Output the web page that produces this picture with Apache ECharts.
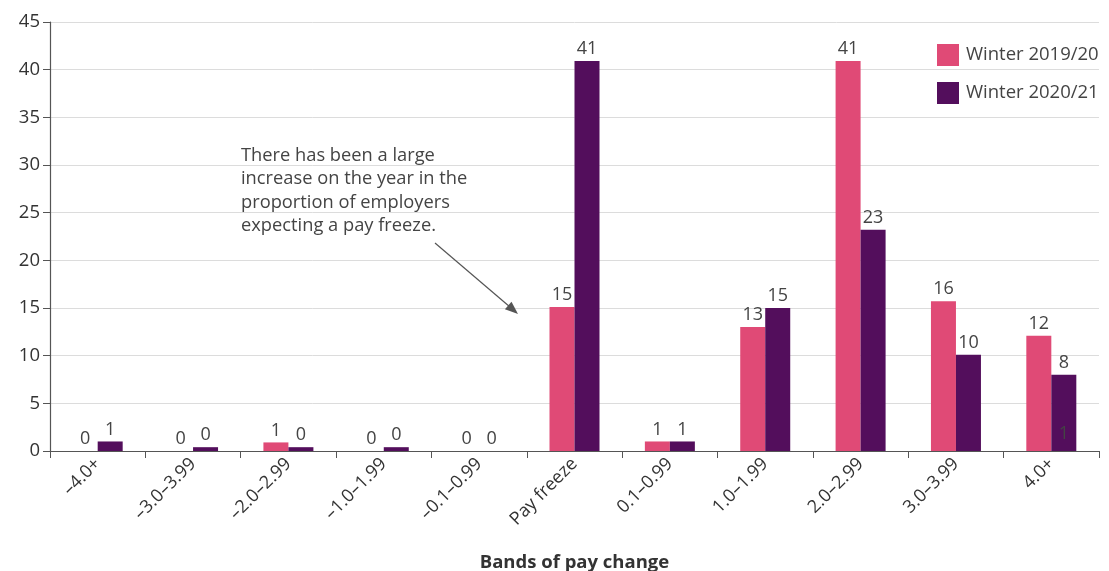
<!DOCTYPE html>
<html>
<head>
<meta charset="utf-8">
<script src="https://cdn.jsdelivr.net/npm/echarts@6/dist/echarts.min.js"></script>
<style>
html,body{margin:0;padding:0;background:#fff;}
#chart{width:1109px;height:571px;}
</style>
</head>
<body>
<div id="chart"></div>
<script>
const categories = ['–4.0+', '–3.0–3.99', '–2.0–2.99', '–1.0–1.99', '–0.1–0.99', 'Pay freeze', '0.1–0.99', '1.0–1.99', '2.0–2.99', '3.0–3.99', '4.0+'];
const winter2019 = [0, 0, 0.9, 0, 0, 15.1, 1, 13, 40.9, 15.7, 12.1];
const winter2020 = [1, 0.4, 0.4, 0.4, 0, 40.9, 1, 15, 23.2, 10.1, 8];
const seriesNames = ['Winter 2019/20', 'Winter 2020/21'];
const yTicks = { min: 0, max: 45, interval: 5 };
const annotationText = 'There has been a large\nincrease on the year in the\nproportion of employers\nexpecting a pay freeze.';
// stray label visible inside the last purple bar in the source
const strayLabel = { category: '4.0+', value: 1, text: '1' };

const FONT = '"Open Sans", sans-serif';
const chart = echarts.init(document.getElementById('chart'));

const labelCfg = {
  show: true,
  position: 'top',
  distance: 3,
  color: '#444',
  fontSize: 18,
  fontFamily: FONT,
  formatter: p => Math.round(p.value)
};

chart.setOption({
  animation: false,
  textStyle: { fontFamily: FONT },
  grid: { left: 50, right: 10, top: 22, bottom: 120, containLabel: false, outerBoundsMode: 'none' },
  legend: {
    orient: 'vertical',
    left: 932,
    top: 39,
    itemWidth: 22,
    itemHeight: 22,
    itemGap: 16,
    icon: 'rect',
    textStyle: { fontSize: 18.5, color: '#444', fontFamily: FONT, padding: [0, 0, 0, 2] },
    data: seriesNames
  },
  xAxis: {
    type: 'category',
    data: categories,
    name: 'Bands of pay change',
    nameLocation: 'middle',
    nameGap: 102,
    nameTextStyle: { fontSize: 18.5, fontWeight: 'bold', color: '#333', fontFamily: FONT },
    axisLine: { lineStyle: { color: '#555', width: 1.2 } },
    axisTick: { show: true, length: 7, lineStyle: { color: '#555' } },
    axisLabel: { rotate: 45, fontSize: 18, color: '#333', margin: 10, fontFamily: FONT }
  },
  yAxis: {
    type: 'value',
    min: yTicks.min,
    max: yTicks.max,
    interval: yTicks.interval,
    axisLine: { show: true, lineStyle: { color: '#555', width: 1.2 } },
    axisTick: { show: true, length: 7, lineStyle: { color: '#555' } },
    axisLabel: { fontSize: 18.5, color: '#333', margin: 10, fontFamily: FONT },
    splitLine: { lineStyle: { color: '#dcdcdc' } }
  },
  series: [
    {
      name: seriesNames[0],
      type: 'bar',
      data: winter2019,
      barWidth: 25,
      barGap: '0%',
      itemStyle: { color: '#e04a76' },
      label: labelCfg
    },
    {
      name: seriesNames[1],
      type: 'bar',
      data: winter2020,
      barWidth: 25,
      itemStyle: { color: '#530e5c' },
      label: labelCfg,
      markPoint: {
        symbol: 'circle',
        symbolSize: 0,
        silent: true,
        label: {
          show: true,
          position: 'top',
          offset: [0, 6],
          color: '#444',
          fontSize: 18,
          fontFamily: FONT,
          formatter: strayLabel.text
        },
        data: [{ coord: [strayLabel.category, strayLabel.value] }]
      }
    }
  ],
  graphic: [
    {
      type: 'text',
      left: 241,
      top: 144,
      z: 10,
      style: {
        text: annotationText,
        fontSize: 18.3,
        lineHeight: 23.5,
        fill: '#444',
        fontFamily: FONT
      }
    },
    {
      type: 'line',
      z: 10,
      shape: { x1: 435, y1: 243, x2: 510, y2: 307 },
      style: { stroke: '#555', lineWidth: 1.2 }
    },
    {
      type: 'polygon',
      z: 10,
      shape: { points: [[518, 314], [504.9, 309.3], [511.5, 301.7]] },
      style: { fill: '#555' }
    }
  ]
});
</script>
</body>
</html>
